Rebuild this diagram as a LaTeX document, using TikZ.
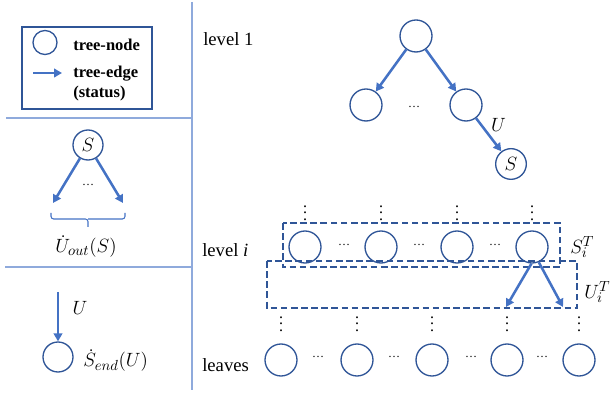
\documentclass[tikz,border=0pt]{standalone}
\usepackage{fontspec}
\setmainfont{Liberation Serif}
\usetikzlibrary{arrows.meta}
\definecolor{nodeblue}{HTML}{2F5597}
\definecolor{edgeblue}{HTML}{4472C4}
\definecolor{ruleblue}{HTML}{8FAADC}
% three stacked dots, a little more open than \vdots
\newcommand\colvdots{\vbox{\baselineskip=4.9pt\lineskiplimit=-10pt\hbox{.}\hbox{.}\hbox{.}}}
\begin{document}
\begin{tikzpicture}[x=0.75pt,y=-0.75pt,
  tnode/.style={circle,draw=nodeblue,line width=1pt,minimum size=24pt,inner sep=0pt,
    font=\fontsize{14.5}{16}\selectfont},
  treeedge/.style={draw=edgeblue,line width=1.9pt,-{Triangle[length=6pt,width=6.5pt]}},
  rulestyle/.style={draw=ruleblue,line width=1.1pt},
  dashbox/.style={draw=nodeblue,line width=1.1pt,dash pattern=on 5pt off 2.6pt},
  bracket/.style={draw=edgeblue,line width=0.8pt,rounded corners=2pt},
  lgtext/.style={inner sep=0pt,font=\fontsize{12.4}{14}\selectfont\bfseries},
  lvl/.style={inner sep=0pt,font=\fontsize{14}{16}\selectfont},
  mathlbl/.style={inner sep=0pt,font=\fontsize{15}{17}\selectfont},
  hdots/.style={inner sep=0pt,anchor=base,font=\fontsize{9}{10}\selectfont},
  vdotsnode/.style={inner sep=0pt,font=\fontsize{12}{12}\selectfont}]
\useasboundingbox (0,0) rectangle (610,398);

% ---------- panel dividers ----------
\draw[rulestyle] (192,2) -- (192,390);
\draw[rulestyle] (6,118) -- (192,118);
\draw[rulestyle] (5,267) -- (192,267);

% ---------- legend ----------
\draw[nodeblue,line width=0.8pt] (22,27) rectangle (152,109);
\node[tnode,minimum size=18pt] (lgnode) at (45,42.5) {};
\node[lgtext,anchor=base west] (lgnodetxt) at (73,51) {tree-node};
\coordinate (lgA) at (33,73);
\coordinate (lgB) at (62,73);
\draw[treeedge] (lgA) -- (lgB);
\node[lgtext,anchor=base west] (lgedgetxt) at (73,77.5) {tree-edge};
\node[lgtext,anchor=base west] (lgstatus) at (73,97.5) {(status)};

% ---------- out-edges of a status ----------
\node[tnode,minimum size=22.5pt] (s2) at (88,145) {$S$};
\coordinate (s2l) at (53,203);
\coordinate (s2r) at (123,203);
\draw[treeedge] (s2) -- (s2l);
\draw[treeedge] (s2) -- (s2r);
\node[hdots] (s2dots) at (88,186) {\dots};
\coordinate (brL) at (51,213);
\coordinate (brR) at (125,213);
\coordinate (brM) at (88,219);
\draw[bracket] (brL) |- (brM) -- (88,227);
\draw[bracket] (brR) |- (brM);
\node[mathlbl,anchor=base] (s2lbl) at (86,253) {$\dot U_{out}(S)$};

% ---------- end status of an edge ----------
\coordinate (s3a) at (58,292);
\node[tnode,minimum size=22.5pt] (s3) at (58,357) {};
\draw[treeedge] (s3a) -- (s3);
\node[mathlbl] (s3u) at (80,308) {$U$};
\node[mathlbl,anchor=base west] (s3lbl) at (83,367) {$\dot S_{end}(U)$};

% ---------- level 1 ----------
\node[lvl,anchor=base west] (lv1) at (203,46) {level 1};
\node[tnode] (root) at (416,36) {};
\node[tnode] (c1) at (366,105) {};
\node[tnode] (c2) at (466,105) {};
\node[hdots] (c12dots) at (414,108) {\dots};
\node[tnode,minimum size=23pt] (sn) at (511,164) {$S$};
\draw[treeedge] (root) -- (c1);
\draw[treeedge] (root) -- (c2);
\draw[treeedge] (c2) -- (sn);
\node[mathlbl] (ulbl) at (498.5,124.5) {$U$};

% ---------- level i ----------
\node[lvl,anchor=base west] (lvi) at (202,257) {level \textit{i}};
\foreach \x [count=\k] in {305,381,457,532} {
  \node[tnode] (l\k) at (\x,247) {};
  \node[vdotsnode] (lv\k) at (\x,213) {\colvdots};
}
\foreach \x [count=\k] in {344,419,495} {
  \node[hdots] (ld\k) at (\x,246) {\dots};
}
\draw[dashbox] (283,223) rectangle (560,267);
\draw[dashbox] (267,261) rectangle (577,308);
\node[mathlbl,anchor=west] (silbl) at (570,247) {$S_i^T$};
\node[mathlbl,anchor=west] (uilbl) at (584,292) {$U_i^T$};
\coordinate (ua) at (506,307);
\coordinate (ub) at (563,307);
\draw[treeedge] (l4.-92) -- (ua);
\draw[treeedge] (l4.-66) -- (ub);

% ---------- leaves ----------
\node[lvl,anchor=base west] (lvl) at (202,372) {leaves};
\foreach \x [count=\k] in {281,357,432,507,579} {
  \node[tnode] (f\k) at (\x,360) {};
  \node[vdotsnode] (fv\k) at (\x,324) {\colvdots};
}
\foreach \x [count=\k] in {318,394,471,542} {
  \node[hdots] (fd\k) at (\x,358) {\dots};
}
\end{tikzpicture}
\end{document}
